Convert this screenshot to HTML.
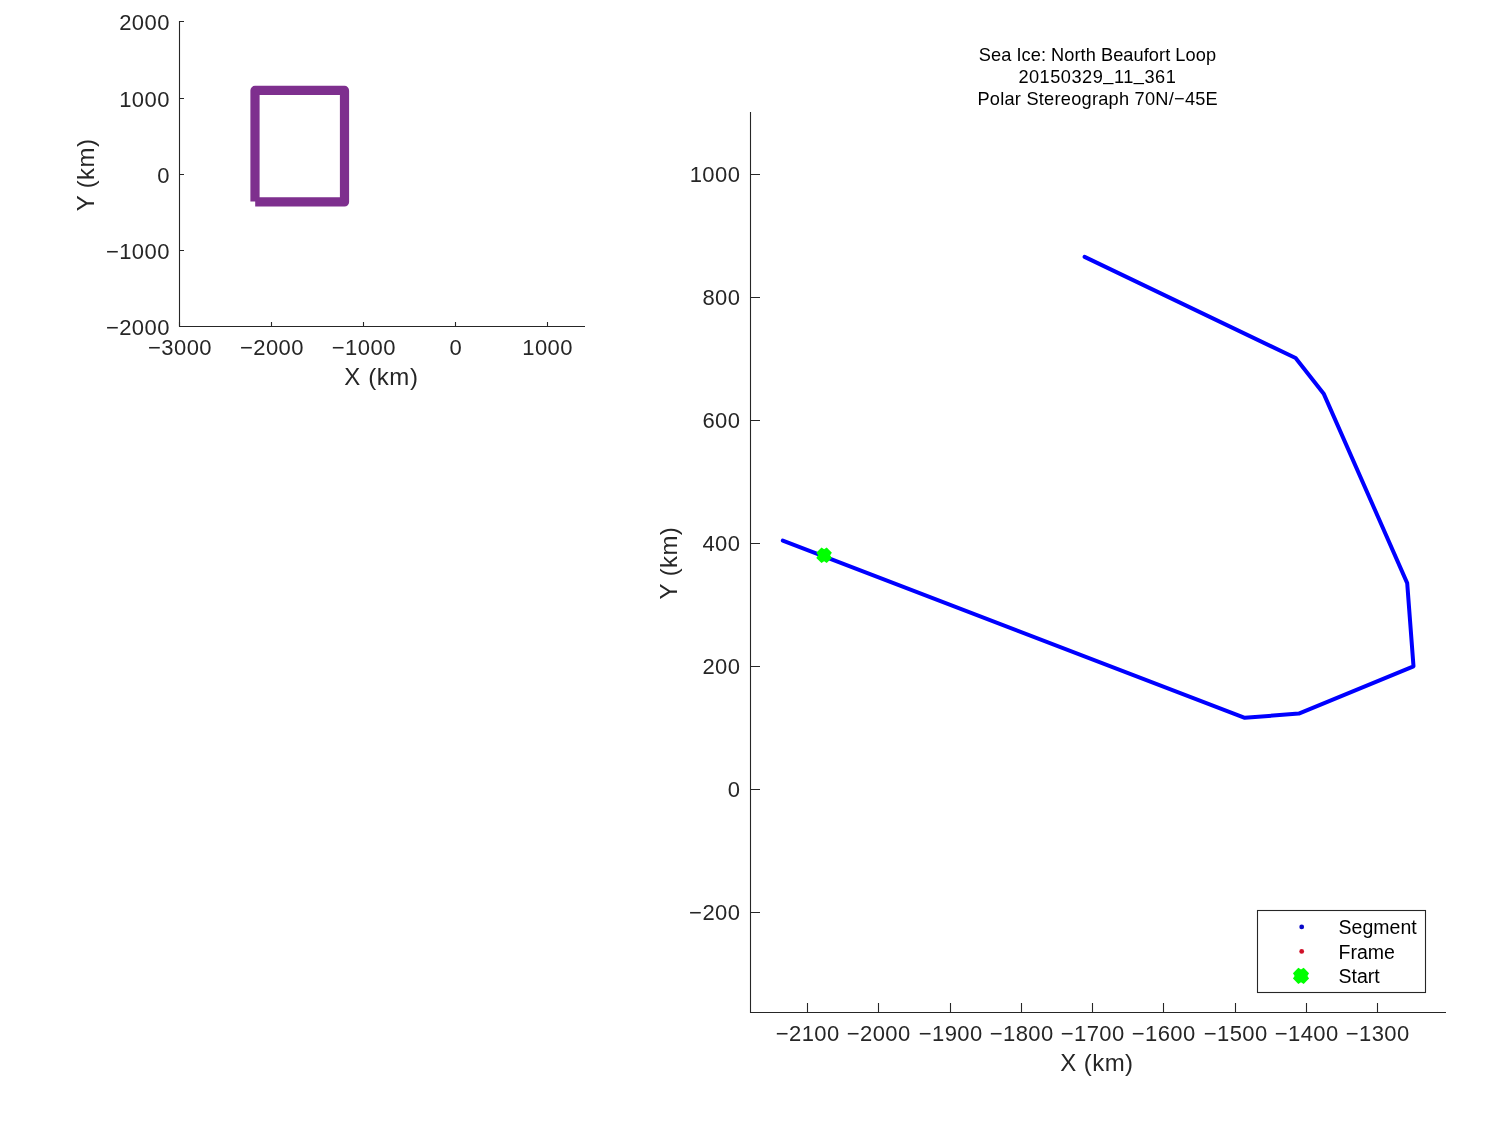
<!DOCTYPE html>
<html><head><meta charset="utf-8"><style>
html,body{margin:0;padding:0;background:#fff;width:1500px;height:1125px;overflow:hidden}
svg{display:block;font-family:"Liberation Sans",sans-serif;will-change:transform}
</style></head><body>
<svg width="1500" height="1125" viewBox="0 0 1500 1125">
<rect width="1500" height="1125" fill="#fff"/>
<path d="M255.2,201.9 L344.5,201.9 L344.5,90.4 L255.0,90.4 L255.0,201.5" fill="none" stroke="#7E2F8E" stroke-width="9.2" stroke-linejoin="round" stroke-linecap="butt"/>
<path d="M179.5,21.0 V326.5 H585.0" fill="none" stroke="#262626" stroke-width="1.1"/>
<path d="M179.5,21.5 h4.5 M179.5,98.5 h4.5 M179.5,174.5 h4.5 M179.5,250.5 h4.5 M179.5,326.5 h4.5 M179.5,326.5 v-4.5 M271.5,326.5 v-4.5 M363.5,326.5 v-4.5 M455.5,326.5 v-4.5 M547.5,326.5 v-4.5" fill="none" stroke="#262626" stroke-width="1.1"/>
<text x="169.95" y="29.70" font-size="22" text-anchor="end" fill="#262626"  letter-spacing="0.45">2000</text>
<text x="169.95" y="106.70" font-size="22" text-anchor="end" fill="#262626"  letter-spacing="0.45">1000</text>
<text x="169.95" y="182.70" font-size="22" text-anchor="end" fill="#262626"  letter-spacing="0.45">0</text>
<text x="169.95" y="258.70" font-size="22" text-anchor="end" fill="#262626"  letter-spacing="0.45">−1000</text>
<text x="169.95" y="334.70" font-size="22" text-anchor="end" fill="#262626"  letter-spacing="0.45">−2000</text>
<text x="180.03" y="355.00" font-size="22" text-anchor="middle" fill="#262626"  letter-spacing="0.45">−3000</text>
<text x="271.93" y="355.00" font-size="22" text-anchor="middle" fill="#262626"  letter-spacing="0.45">−2000</text>
<text x="363.83" y="355.00" font-size="22" text-anchor="middle" fill="#262626"  letter-spacing="0.45">−1000</text>
<text x="455.73" y="355.00" font-size="22" text-anchor="middle" fill="#262626"  letter-spacing="0.45">0</text>
<text x="547.62" y="355.00" font-size="22" text-anchor="middle" fill="#262626"  letter-spacing="0.45">1000</text>
<text x="381.40" y="384.70" font-size="24" text-anchor="middle" fill="#262626"  letter-spacing="0.6">X (km)</text>
<text x="0.20" y="0" font-size="24" text-anchor="middle" fill="#262626" letter-spacing="0.4" transform="translate(94.0,175.2) rotate(-90)">Y (km)</text>
<path d="M782.8,540.6 L1244.8,717.8 L1298.8,713.6 L1413.5,666.3 L1407.2,583.1 L1323.9,394.1 L1295.6,358.0 L1084.6,256.9" fill="none" stroke="#0000FF" stroke-width="4.0" stroke-linejoin="round" stroke-linecap="round"/>
<path d="M821.50,547.50 L824.10,549.30 L826.70,547.50 L831.90,552.70 L830.10,555.30 L831.90,557.90 L826.70,563.10 L824.10,561.30 L821.50,563.10 L816.30,557.90 L818.10,555.30 L816.30,552.70Z" fill="#00FF00"/>
<path d="M750.5,112.0 V1012.5 H1446.0" fill="none" stroke="#262626" stroke-width="1.1"/>
<path d="M750.5,912.5 h9.5 M750.5,789.5 h9.5 M750.5,666.5 h9.5 M750.5,543.5 h9.5 M750.5,420.5 h9.5 M750.5,297.5 h9.5 M750.5,174.5 h9.5 M807.5,1012.5 v-9.5 M878.5,1012.5 v-9.5 M950.5,1012.5 v-9.5 M1021.5,1012.5 v-9.5 M1092.5,1012.5 v-9.5 M1163.5,1012.5 v-9.5 M1235.5,1012.5 v-9.5 M1306.5,1012.5 v-9.5 M1377.5,1012.5 v-9.5" fill="none" stroke="#262626" stroke-width="1.1"/>
<text x="740.45" y="919.60" font-size="22" text-anchor="end" fill="#262626"  letter-spacing="0.45">−200</text>
<text x="740.45" y="796.70" font-size="22" text-anchor="end" fill="#262626"  letter-spacing="0.45">0</text>
<text x="740.45" y="673.80" font-size="22" text-anchor="end" fill="#262626"  letter-spacing="0.45">200</text>
<text x="740.45" y="550.90" font-size="22" text-anchor="end" fill="#262626"  letter-spacing="0.45">400</text>
<text x="740.45" y="428.00" font-size="22" text-anchor="end" fill="#262626"  letter-spacing="0.45">600</text>
<text x="740.45" y="305.10" font-size="22" text-anchor="end" fill="#262626"  letter-spacing="0.45">800</text>
<text x="740.45" y="182.20" font-size="22" text-anchor="end" fill="#262626"  letter-spacing="0.45">1000</text>
<text x="807.73" y="1041.00" font-size="22" text-anchor="middle" fill="#262626"  letter-spacing="0.45">−2100</text>
<text x="878.73" y="1041.00" font-size="22" text-anchor="middle" fill="#262626"  letter-spacing="0.45">−2000</text>
<text x="950.73" y="1041.00" font-size="22" text-anchor="middle" fill="#262626"  letter-spacing="0.45">−1900</text>
<text x="1021.73" y="1041.00" font-size="22" text-anchor="middle" fill="#262626"  letter-spacing="0.45">−1800</text>
<text x="1092.72" y="1041.00" font-size="22" text-anchor="middle" fill="#262626"  letter-spacing="0.45">−1700</text>
<text x="1163.72" y="1041.00" font-size="22" text-anchor="middle" fill="#262626"  letter-spacing="0.45">−1600</text>
<text x="1235.72" y="1041.00" font-size="22" text-anchor="middle" fill="#262626"  letter-spacing="0.45">−1500</text>
<text x="1306.72" y="1041.00" font-size="22" text-anchor="middle" fill="#262626"  letter-spacing="0.45">−1400</text>
<text x="1377.72" y="1041.00" font-size="22" text-anchor="middle" fill="#262626"  letter-spacing="0.45">−1300</text>
<text x="1096.90" y="1070.80" font-size="24" text-anchor="middle" fill="#262626"  letter-spacing="0.4">X (km)</text>
<text x="0.20" y="0" font-size="24" text-anchor="middle" fill="#262626" letter-spacing="0.4" transform="translate(676.8,563.3) rotate(-90)">Y (km)</text>
<text x="1097.43" y="61.20" font-size="18.2" text-anchor="middle" fill="#000"  letter-spacing="0.06">Sea Ice: North Beaufort Loop</text>
<text x="1097.35" y="83.2" font-size="18.2" text-anchor="middle" fill="#000" letter-spacing="0.5">20150329<tspan dy="-3.5">_</tspan><tspan dy="3.5">11</tspan><tspan dy="-3.5">_</tspan><tspan dy="3.5">361</tspan></text>
<text x="1097.72" y="105.40" font-size="18.2" text-anchor="middle" fill="#000"  letter-spacing="0.25">Polar Stereograph 70N/−45E</text>
<rect x="1257.5" y="910.5" width="168" height="82" fill="#fff" stroke="#262626" stroke-width="1.1"/>
<circle cx="1301.7" cy="926.9" r="2.4" fill="#0808C8"/>
<circle cx="1301.7" cy="951.4" r="2.4" fill="#D01028"/>
<path d="M1298.32,967.87 L1301.00,969.51 L1303.68,967.87 L1309.03,973.22 L1307.39,975.90 L1309.03,978.58 L1303.68,983.93 L1301.00,982.29 L1298.32,983.93 L1292.97,978.58 L1294.61,975.90 L1292.97,973.22Z" fill="#00FF00"/>
<text x="1338.60" y="933.90" font-size="19.5" text-anchor="start" fill="#000" >Segment</text>
<text x="1338.60" y="958.70" font-size="19.5" text-anchor="start" fill="#000" >Frame</text>
<text x="1338.60" y="982.90" font-size="19.5" text-anchor="start" fill="#000" >Start</text>
</svg>
</body></html>
